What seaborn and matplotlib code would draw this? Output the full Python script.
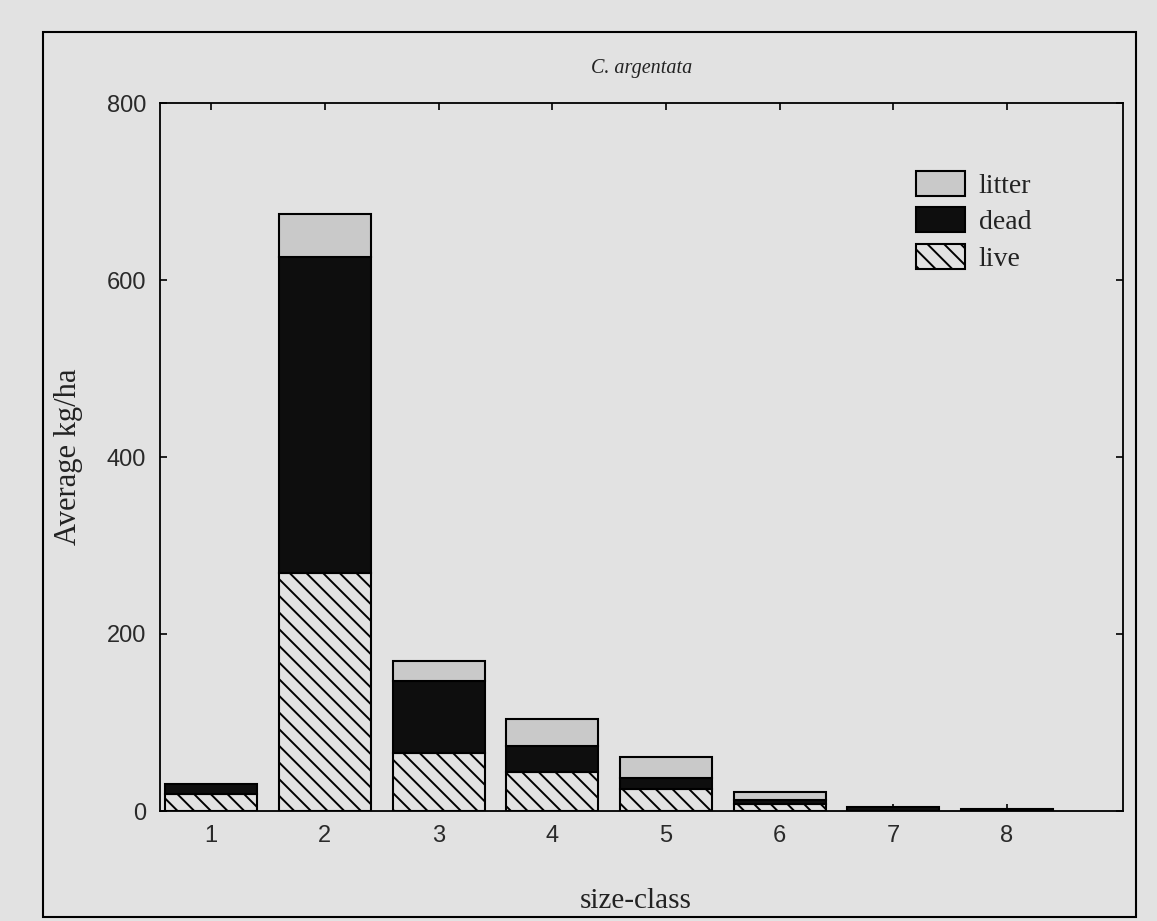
import numpy as np
import pandas as pd
import matplotlib
matplotlib.use("Agg")
import matplotlib.pyplot as plt
import seaborn as sns
from matplotlib.patches import Rectangle, Patch

# ---- data ----
size_class = ["1", "2", "3", "4", "5", "6", "7", "8"]
live = [19, 269, 66, 44, 25, 7.5, 0.0, 0.0]
dead = [12, 357, 81, 29, 12, 5.0, 5.0, 2.5]
litter = [0, 49, 22, 31, 24, 8.5, 0.0, 0.0]
y_ticks = [0, 200, 400, 600, 800]

BG = "#e2e2e2"
LITTER_C = "#c9c9c9"
DEAD_C = "#0e0e0e"

sns.set_theme(style="white")
plt.rcParams["hatch.linewidth"] = 1.4
plt.rcParams["font.family"] = ["Liberation Serif", "DejaVu Serif"]

fig = plt.figure(figsize=(11.57, 9.21), dpi=100, facecolor=BG)
ax = fig.add_axes([160/1157, 1-811/921, (1123-160)/1157, (811-103)/921])
ax.set_facecolor(BG)

df = pd.DataFrame({"size": size_class, "live": live, "dead": dead, "litter": litter})
bottom_dead = np.array(live)
bottom_litter = np.array(live) + np.array(dead)

sns.barplot(data=df, x="size", y="live", color=BG, edgecolor="black",
            linewidth=1.5, width=0.81, hatch="\\\\", ax=ax, saturation=1)
sns.barplot(data=df, x="size", y="dead", color=DEAD_C, edgecolor="black",
            linewidth=1.5, width=0.81, bottom=bottom_dead, ax=ax, saturation=1)
sns.barplot(data=df, x="size", y="litter", color=LITTER_C, edgecolor="black",
            linewidth=1.5, width=0.81, bottom=bottom_litter, ax=ax, saturation=1)

# hide zero-height segments
for p in ax.patches:
    if p.get_height() <= 0:
        p.set_visible(False)

ax.set_xlim(-0.45, 8.02)
ax.set_ylim(0, 800)
ax.set_yticks(y_ticks)
ax.set_yticklabels([str(v) for v in y_ticks], family="Liberation Sans", fontsize=17,
                   color="#2a2a2a")
ax.set_xticks(range(len(size_class)))
ax.set_xticklabels(size_class, family="Liberation Sans", fontsize=17, color="#2a2a2a")
ax.tick_params(direction="in", length=5, width=1.2, color="black",
               top=True, right=True, bottom=True, left=True, pad=10)
for s in ax.spines.values():
    s.set_visible(True)
    s.set_color("black")
    s.set_linewidth(1.3)

ax.set_xlabel("size-class", fontsize=21, color="#222222")
ax.set_ylabel("Average kg/ha", fontsize=22, color="#222222")
ax.xaxis.set_label_coords(0.494, -0.109)
ax.yaxis.set_label_coords(-0.080, 0.5)
ax.set_title("C. argentata", fontsize=14.5, style="italic", color="#222222", y=1.03)

handles = [
    Patch(facecolor=LITTER_C, edgecolor="black", linewidth=1.5, label="litter"),
    Patch(facecolor=DEAD_C, edgecolor="black", linewidth=1.5, label="dead"),
    Patch(facecolor=BG, edgecolor="black", linewidth=1.5, hatch="\\\\", label="live"),
]
leg = ax.legend(handles=handles, loc="upper left", bbox_to_anchor=((905-160)/963, (811-160)/708),
                frameon=False, fontsize=20, handlelength=1.75, handleheight=1.0,
                labelspacing=0.3, handletextpad=0.5, borderaxespad=0)
for t in leg.get_texts():
    t.set_color("#222222")

fig.add_artist(Rectangle((43/1157, 1-917/921), (1136-43)/1157, (917-32)/921,
                         transform=fig.transFigure, fill=False, edgecolor="black",
                         linewidth=1.5))

fig.savefig("out.png", dpi=100, facecolor=BG)
